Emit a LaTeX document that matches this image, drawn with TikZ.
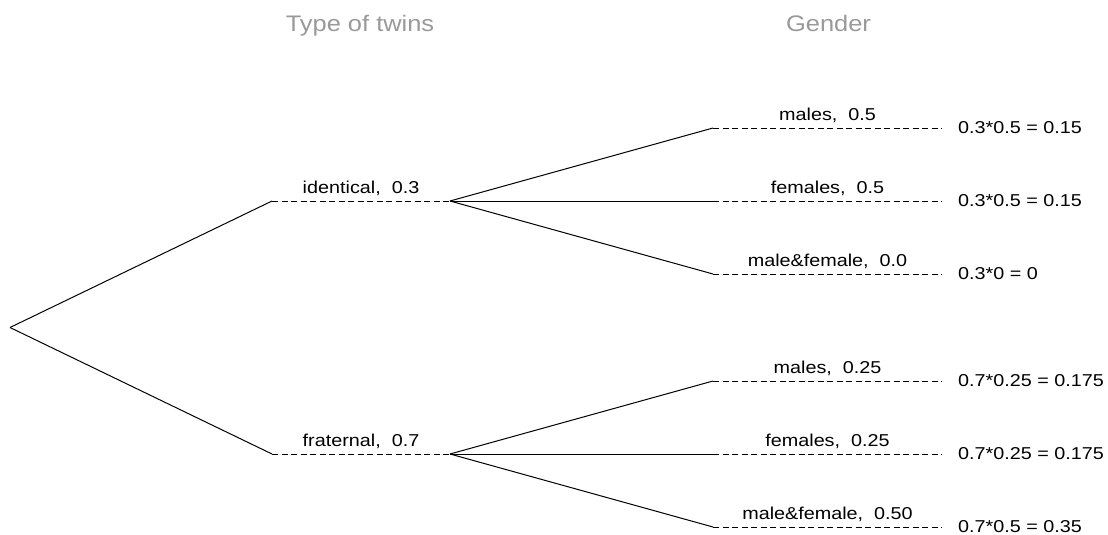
\documentclass[tikz,border=0pt]{standalone}
\usepackage{fontspec}
\setmainfont{Liberation Sans}
\usetikzlibrary{calc}
\newcommand\wtxt[1]{\scalebox{1.15}[1]{#1}}
\newcommand\htxt[1]{\scalebox{1.13}[1]{#1}}
\tikzset{
  branch/.style={line width=1pt, black},
  dashbranch/.style={line width=1pt, black, dash pattern=on 6pt off 3.5pt},
  lbl/.style={anchor=base, inner sep=0pt, font=\fontsize{17.2}{20}\selectfont},
  res/.style={anchor=west, inner sep=0pt, font=\fontsize{17.2}{20}\selectfont},
  hdr/.style={anchor=base, inner sep=0pt, text=black!40, font=\fontsize{22.5}{26}\selectfont}
}
\begin{document}
\begin{tikzpicture}[x=1pt,y=-1pt]
\useasboundingbox (0,0) rectangle (1108,535);
\node[hdr] (h1) at (360,31.5) {\htxt{Type of twins}};
\node[hdr] (h2) at (828.5,31.5) {\htxt{Gender}};
\coordinate (r) at (10,327.5);
% level 1
\coordinate (ia) at (272,201); \coordinate (ib) at (450,201);
\coordinate (fa) at (272,454); \coordinate (fb) at (450,454);
\draw[branch] (r) -- (ia);
\draw[branch] (r) -- (fa);
\draw[dashbranch] (ia) -- (ib);
\draw[dashbranch] (fa) -- (fb);
\node[lbl] (li) at ($(ia)!0.5!(ib)+(0,-8)$) {\wtxt{identical,\ \ 0.3}};
\node[lbl] (lf) at ($(fa)!0.5!(fb)+(0,-8)$) {\wtxt{fraternal,\ \ 0.7}};
% level 2
\foreach \n/\p/\y/\t/\r in {a/ib/128/{males,\ \ 0.5}/{0.3*0.5 = 0.15},
                            b/ib/201/{females,\ \ 0.5}/{0.3*0.5 = 0.15},
                            c/ib/274/{male\&female,\ \ 0.0}/{0.3*0 = 0},
                            d/fb/381/{males,\ \ 0.25}/{0.7*0.25 = 0.175},
                            e/fb/454/{females,\ \ 0.25}/{0.7*0.25 = 0.175},
                            f/fb/527/{male\&female,\ \ 0.50}/{0.7*0.5 = 0.35}}{
  \coordinate (s\n) at (713,\y);
  \coordinate (e\n) at (942,\y);
  \draw[branch] (\p) -- (s\n);
  \draw[dashbranch] (s\n) -- (e\n);
  \node[lbl] (l\n) at ($(s\n)!0.5!(e\n)+(0,-8)$) {\wtxt{\t}};
  \node[res] (r\n) at ($(e\n)+(16,0)$) {\wtxt{\r}};
}
\end{tikzpicture}
\end{document}
